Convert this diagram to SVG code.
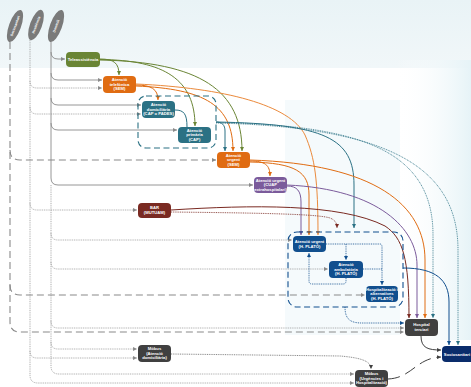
<svg xmlns="http://www.w3.org/2000/svg" width="471" height="387" viewBox="0 0 471 387">
<defs>
<linearGradient id="gTop" x1="0" y1="0" x2="0" y2="1"><stop offset="0" stop-color="#e9f3f6"/><stop offset="1" stop-color="#f1f7f9"/></linearGradient>
<linearGradient id="gRight" x1="0" y1="0" x2="1" y2="0"><stop offset="0" stop-color="#ffffff" stop-opacity="0"/><stop offset="1" stop-color="#e6f3f7"/></linearGradient>
<marker id="aG" markerWidth="4" markerHeight="4" refX="4" refY="2" orient="auto" markerUnits="userSpaceOnUse"><path d="M0,0 L4,2 L0,4 z" fill="#8a8a8a"/></marker>
<marker id="aGr" markerWidth="4" markerHeight="4" refX="4" refY="2" orient="auto" markerUnits="userSpaceOnUse"><path d="M0,0 L4,2 L0,4 z" fill="#6a8535"/></marker>
<marker id="aO" markerWidth="4" markerHeight="4" refX="4" refY="2" orient="auto" markerUnits="userSpaceOnUse"><path d="M0,0 L4,2 L0,4 z" fill="#e06c12"/></marker>
<marker id="aLO" markerWidth="4" markerHeight="4" refX="4" refY="2" orient="auto" markerUnits="userSpaceOnUse"><path d="M0,0 L4,2 L0,4 z" fill="#eb8a3c"/></marker>
<marker id="aT" markerWidth="4" markerHeight="4" refX="4" refY="2" orient="auto" markerUnits="userSpaceOnUse"><path d="M0,0 L4,2 L0,4 z" fill="#2b7184"/></marker>
<marker id="aP" markerWidth="4" markerHeight="4" refX="4" refY="2" orient="auto" markerUnits="userSpaceOnUse"><path d="M0,0 L4,2 L0,4 z" fill="#7b5b9b"/></marker>
<marker id="aR" markerWidth="4" markerHeight="4" refX="4" refY="2" orient="auto" markerUnits="userSpaceOnUse"><path d="M0,0 L4,2 L0,4 z" fill="#7a2a22"/></marker>
<marker id="aB" markerWidth="4" markerHeight="4" refX="4" refY="2" orient="auto" markerUnits="userSpaceOnUse"><path d="M0,0 L4,2 L0,4 z" fill="#114f8e"/></marker>
<marker id="aD" markerWidth="4" markerHeight="4" refX="4" refY="2" orient="auto" markerUnits="userSpaceOnUse"><path d="M0,0 L4,2 L0,4 z" fill="#404040"/></marker>
</defs>
<style>
text{font-family:"Liberation Sans",Arial,sans-serif;font-weight:bold;fill:#ffffff;font-size:4.2px;text-anchor:middle}
.c path{fill:none}
.gs{stroke:#8a8a8a;stroke-width:0.9}
.gd{stroke:#8a8a8a;stroke-width:0.7;stroke-dasharray:1 0.8}
.gl{stroke:#8a8a8a;stroke-width:1.1;stroke-dasharray:7 4}
.green{stroke:#6a8535;stroke-width:1}
.or{stroke:#e06c12;stroke-width:1}
.lor{stroke:#eb8a3c;stroke-width:1}
.teal{stroke:#2b7184;stroke-width:1}
.tealdot{stroke:#2b7184;stroke-width:0.8;stroke-dasharray:1 0.8}
.pur{stroke:#7b5b9b;stroke-width:1}
.red{stroke:#7a2a22;stroke-width:1}
.reddot{stroke:#7a2a22;stroke-width:0.8;stroke-dasharray:1 0.8}
.blue{stroke:#114f8e;stroke-width:1}
.bluedot{stroke:#114f8e;stroke-width:0.8;stroke-dasharray:1 0.8}
.dg{stroke:#404040;stroke-width:1}
.grp{fill:none;stroke-width:1.1;stroke-dasharray:6 3.5}
</style>
<rect x="0" y="0" width="471" height="387" fill="#ffffff"/>
<rect x="0" y="0" width="471" height="68" fill="url(#gTop)"/>
<rect x="285" y="100" width="115" height="235" fill="#f5fafc"/>
<rect x="395" y="60" width="76" height="280" fill="url(#gRight)"/>

<g id="origins">
<g id="orig-left"><ellipse cx="15" cy="26" rx="6" ry="17" transform="rotate(20 15 26)" fill="#7a7a7a"/><text x="15" y="27.3" transform="rotate(-70 15 26)" style="font-size:3.4px">Sociosanitari</text></g>
<g id="orig-mid"><ellipse cx="36" cy="25" rx="6" ry="16" transform="rotate(20 36 25)" fill="#7a7a7a"/><text x="36" y="26.3" transform="rotate(-70 36 25)" style="font-size:3.4px">Residència</text></g>
<g id="orig-right"><ellipse cx="56" cy="26" rx="6" ry="17" transform="rotate(20 56 26)" fill="#7a7a7a"/><text x="56" y="27.3" transform="rotate(-70 56 26)" style="font-size:3.4px">Domicili</text></g>
</g>

<g id="connectors" class="c">
<path class="gl" d="M10,42 V322 Q10,332 20,332 H404" marker-end="url(#aG)"/>
<path class="gl" d="M10,150 Q10,160 20,160 H216" marker-end="url(#aG)"/>
<path class="gl" d="M10,285 Q10,295 20,295 H365" marker-end="url(#aG)"/>
<path class="gd" d="M30,40 V375 Q30,383 38,383 H354" marker-end="url(#aG)"/>
<path class="gd" d="M30,81 Q30,88 37,88 H102" marker-end="url(#aG)"/>
<path class="gd" d="M30,107 Q30,114 37,114 H141" marker-end="url(#aG)"/>
<path class="gd" d="M30,203 Q30,210 37,210 H137" marker-end="url(#aG)"/>
<path class="gd" d="M30,351 Q30,358 37,358 H137" marker-end="url(#aG)"/>
<path class="gs" d="M51,42 V178 Q51,185 58,185 H253" marker-end="url(#aG)"/>
<path class="gs" d="M51,52 Q51,59 58,59 H65" marker-end="url(#aG)"/>
<path class="gs" d="M51,73 Q51,80 58,80 H102" marker-end="url(#aG)"/>
<path class="gs" d="M51,98 Q51,105 58,105 H141" marker-end="url(#aG)"/>
<path class="gs" d="M51,123 Q51,130 58,130 H177" marker-end="url(#aG)"/>
<path class="gd" d="M51,185 V366 Q51,374 59,374 H354" marker-end="url(#aG)"/>
<path class="gd" d="M51,233 Q51,240 58,240 H292" marker-end="url(#aG)"/>
<path class="gd" d="M51,262 Q51,269 58,269 H328" marker-end="url(#aG)"/>
<path class="gd" d="M51,321 Q51,328 58,328 H404" marker-end="url(#aG)"/>
<path class="gd" d="M51,342 Q51,349 58,349 H137" marker-end="url(#aG)"/>
<path class="green" d="M100,59 C114,59 119,63 119,75" marker-end="url(#aGr)"/>
<path class="green" d="M100,59.5 C165,60 195,80 195,126" marker-end="url(#aGr)"/>
<path class="green" d="M100,60 C200,62 242,90 242,151" marker-end="url(#aGr)"/>
<path class="or" d="M136,85 C151,85 158,89 158,100" marker-end="url(#aO)"/>
<path class="or" d="M136,86 C205,89 233,105 233,151" marker-end="url(#aO)"/>
<path class="lor" d="M136,84 C225,88 290,105 305,135 C315,158 318,180 318,235" marker-end="url(#aLO)"/>
<path class="teal" d="M175,110 C184,110 187,114 187,127"/>
<path class="teal" d="M216,122 C222,122 225,125 225,131 V151" marker-end="url(#aT)"/>
<path class="teal" d="M216,122 C325,124 354,138 354,185 V228" marker-end="url(#aT)"/>
<path class="tealdot" d="M216,122.5 C360,125 433,150 433,235 V318" marker-end="url(#aT)"/>
<path class="tealdot" d="M216,123 C385,127 458,165 458,250 V345" marker-end="url(#aT)"/>
<path class="or" d="M250,161 C265,161 270,165 270,176" marker-end="url(#aO)"/>
<path class="or" d="M250,162 C296,163 309,172 309,195 V235" marker-end="url(#aO)"/>
<path class="or" d="M250,160 C375,164 425,205 425,260 V318" marker-end="url(#aO)"/>
<path class="pur" d="M287,186 C297,186 301,191 301,202 V235" marker-end="url(#aP)"/>
<path class="pur" d="M287,185 C380,189 417,230 417,265 V318" marker-end="url(#aP)"/>
<path class="red" d="M171,210 C250,205 340,203 385,226 C403,238 409,258 409,318" marker-end="url(#aR)"/>
<path class="reddot" d="M171,212 C260,213 318,214 330,218 C335,220 337,223 337,228" marker-end="url(#aR)"/>
<path class="bluedot" d="M326,244 H380 Q382,244 382,247 V285" marker-end="url(#aB)"/>
<path class="bluedot" d="M346,244 V260" marker-end="url(#aB)"/>
<path class="bluedot" d="M363,269 H382"/>
<path class="bluedot" d="M346,278 V281 Q346,284 343,284 H312 Q309,284 309,281 V253" marker-end="url(#aB)"/>
<path class="bluedot" d="M345,307 C345,319 350,323 362,323 H404" marker-end="url(#aB)"/>
<path class="blue" d="M403,268 C436,268 449,280 449,302 V345" marker-end="url(#aB)"/>
<path class="dg" d="M421,336 C421,348 428,350 441,350" marker-end="url(#aD)"/>
<path class="dg" d="M388,379 C412,378 416,358 441,357" stroke-dasharray="12 6" marker-end="url(#aD)"/>
<path class="gd" d="M171,354 L340,356 C364,358 371,362 371,369" style="stroke:#555" marker-end="url(#aD)"/>
</g>

<g id="groups">
<rect id="grp-cap" class="grp" x="138" y="96" width="78" height="52" rx="8" stroke="#2b7184"/>
<rect id="grp-plato" class="grp" x="288" y="232" width="115" height="75" rx="9" stroke="#114f8e"/>
</g>

<g id="n-tele"><rect x="66" y="52" width="34" height="15" rx="4" fill="#6a8535"/><text x="83" y="61">Teleassistència</text></g>
<g id="n-semtel"><rect x="103" y="76" width="33" height="17" rx="4" fill="#e06c12"/><text x="119.5" y="80.8">Atenció</text><text x="119.5" y="85.5">telefònica</text><text x="119.5" y="90.2">(SEM)</text></g>
<g id="n-dom"><rect x="142" y="101" width="33" height="17" rx="4" fill="#2b7184"/><text x="158.5" y="105.8">Atenció</text><text x="158.5" y="110.5">domiciliària</text><text x="158.5" y="115.2">(CAP o PADES)</text></g>
<g id="n-prim"><rect x="178" y="127" width="33" height="16" rx="4" fill="#2b7184"/><text x="194.5" y="131.5">Atenció</text><text x="194.5" y="136.2">primària</text><text x="194.5" y="140.9">(CAP)</text></g>
<g id="n-semurg"><rect x="217" y="152" width="33" height="16" rx="4" fill="#e06c12"/><text x="233.5" y="156.5">Atenció</text><text x="233.5" y="161.2">urgent</text><text x="233.5" y="165.9">(SEM)</text></g>
<g id="n-cuap"><rect x="254" y="177" width="33" height="16" rx="4" fill="#7b5b9b"/><text x="270.5" y="181.5">Atenció urgent</text><text x="270.5" y="186.2">(CUAP</text><text x="270.5" y="190.9">extrahospitalari)</text></g>
<g id="n-bar"><rect x="138" y="203" width="33" height="15" rx="4" fill="#7a2a22"/><text x="154.5" y="209.3">BAR</text><text x="154.5" y="214">(MUTUAM)</text></g>
<g id="n-urgplato"><rect x="293" y="236" width="33" height="16" rx="4" fill="#114f8e"/><text x="309.5" y="242.8">Atenció urgent</text><text x="309.5" y="247.5">(H. PLATÓ)</text></g>
<g id="n-amb"><rect x="329" y="261" width="34" height="17" rx="4" fill="#114f8e"/><text x="346" y="265.8">Atenció</text><text x="346" y="270.5">ambulatòria</text><text x="346" y="275.2">(H. PLATÓ)</text></g>
<g id="n-hosp"><rect x="366" y="286" width="32" height="16" rx="4" fill="#114f8e"/><text x="382" y="290.5">Hospitalització i</text><text x="382" y="295.2">alternatives</text><text x="382" y="299.9">(H. PLATÓ)</text></g>
<g id="n-terc"><rect x="405" y="319" width="33" height="17" rx="4" fill="#404040"/><text x="421.5" y="326.3">Hospital</text><text x="421.5" y="331">terciari</text></g>
<g id="n-socio"><rect x="442" y="346" width="34" height="16" rx="4" fill="#0a2c6b"/><text x="457" y="355.5">Sociosanitari</text></g>
<g id="n-mobdom"><rect x="138" y="345" width="33" height="17" rx="4" fill="#404040"/><text x="154.5" y="349.8">Mòbus</text><text x="154.5" y="354.5">(Atenció</text><text x="154.5" y="359.2">domiciliària)</text></g>
<g id="n-mobhosp"><rect x="355" y="370" width="33" height="17" rx="4" fill="#404040"/><text x="371.5" y="374.8">Mòbus</text><text x="371.5" y="379.5">(Urgències i</text><text x="371.5" y="384.2">Hospitalització)</text></g>
</svg>
